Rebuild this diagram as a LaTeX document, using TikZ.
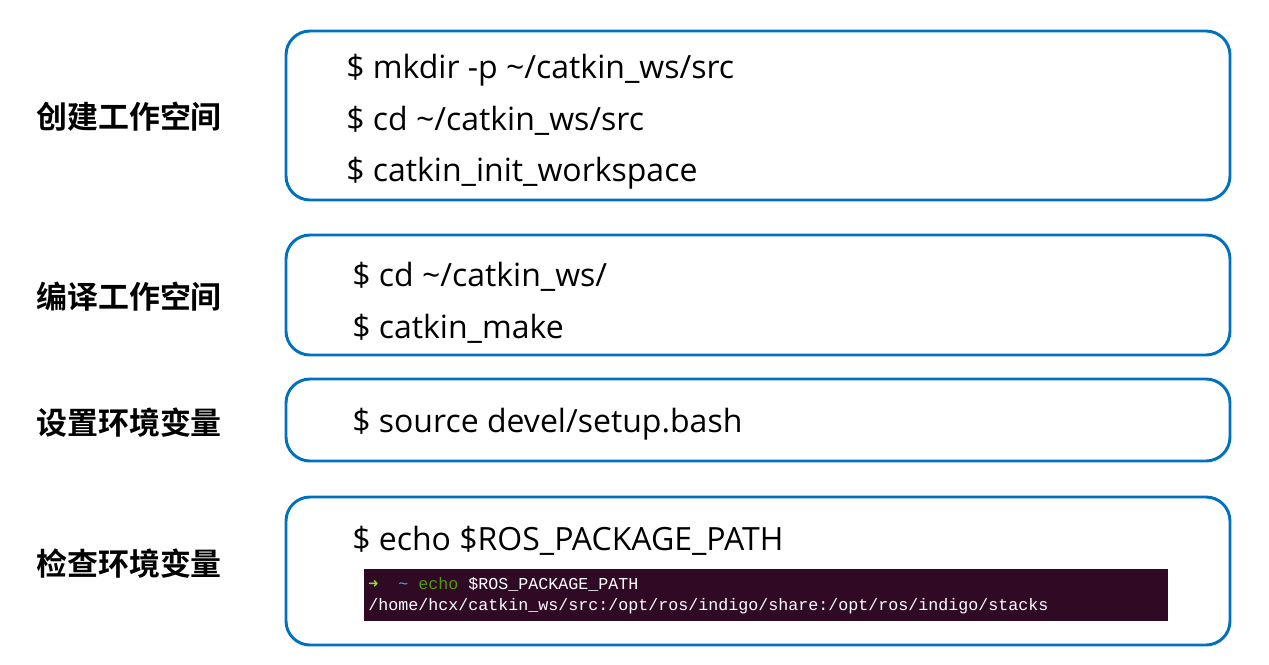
\documentclass[tikz,border=0pt]{standalone}
\usepackage{fontspec}
\setmainfont{Open Sans}
\newfontfamily\cjk[BoldFont={Noto Sans CJK SC Bold}]{Noto Sans CJK SC}
\newfontfamily\termfont{Liberation Mono}
\newfontfamily\symfont{DejaVu Sans Mono}
\usetikzlibrary{positioning}

\definecolor{boxblue}{HTML}{0070C0}
\definecolor{termbg}{HTML}{300A24}
\definecolor{termgreen}{HTML}{8AE234}
\definecolor{termcyan}{HTML}{34B8C8}
\definecolor{termecho}{HTML}{4E9A06}

\tikzset{
    stagebox/.style={draw=boxblue, line width=2.2pt, rounded corners=18pt,
        minimum width=708pt, inner sep=0pt},
    stagelabel/.style={anchor=west, inner sep=0pt,
        font=\cjk\bfseries\fontsize{23.2pt}{23.2pt}\selectfont},
    cmdline/.style={anchor=base west, inner sep=0pt,
        font=\fontsize{24pt}{24pt}\selectfont},
    termline/.style={anchor=base west, inner sep=0pt, text=white,
        font=\termfont\fontsize{12.5pt}{12.5pt}\selectfont},
}

\begin{document}
\begin{tikzpicture}[x=0.75pt, y=-0.75pt]
    \useasboundingbox (0,0) rectangle (1269,664);

    % Boxes.
    \node[stagebox, minimum height=126.75pt] (create) at (758,115.5) {};
    \node[stagebox, minimum height=90pt]     (build)  at (758,295)   {};
    \node[stagebox, minimum height=61.5pt]   (setenv) at (758,420)   {};
    \node[stagebox, minimum height=111pt]    (check)  at (758,571)   {};

    % Stage names.
    \node[stagelabel] (createlbl) at (36,117) {创建工作空间};
    \node[stagelabel] (buildlbl)  at (36,297) {编译工作空间};
    \node[stagelabel] (setenvlbl) at (36,423) {设置环境变量};
    \node[stagelabel] (checklbl)  at (36,564) {检查环境变量};

    % Commands.
    \node[cmdline] (mkdir)  at (346,78)  {\$ mkdir -p \textasciitilde/catkin\_ws/src};
    \node[cmdline] (cdsrc)  at (346,130) {\$ cd \textasciitilde/catkin\_ws/src};
    \node[cmdline] (init)   at (346,181) {\$ catkin\_init\_workspace};
    \node[cmdline] (cdws)   at (352,286) {\$ cd \textasciitilde/catkin\_ws/};
    \node[cmdline] (make)   at (352,338) {\$ catkin\_make};
    \node[cmdline] (source) at (352,432) {\$ source devel/setup.bash};
    \node[cmdline] (echo)   at (352,550) {\$ echo \$ROS\_PACKAGE\_PATH};

    % Terminal output.
    \fill[termbg] (364,569) rectangle (1168,621);
    \node[termline] (prompt) at (368,589)
        {{\color{termgreen}\symfont ➜}\ \ {\color{termcyan}\textasciitilde} {\color{termecho}echo} \$ROS\_PACKAGE\_PATH};
    \node[termline] (result) at (368,610)
        {/home/hcx/catkin\_ws/src:/opt/ros/indigo/share:/opt/ros/indigo/stacks};

\end{tikzpicture}
\end{document}
